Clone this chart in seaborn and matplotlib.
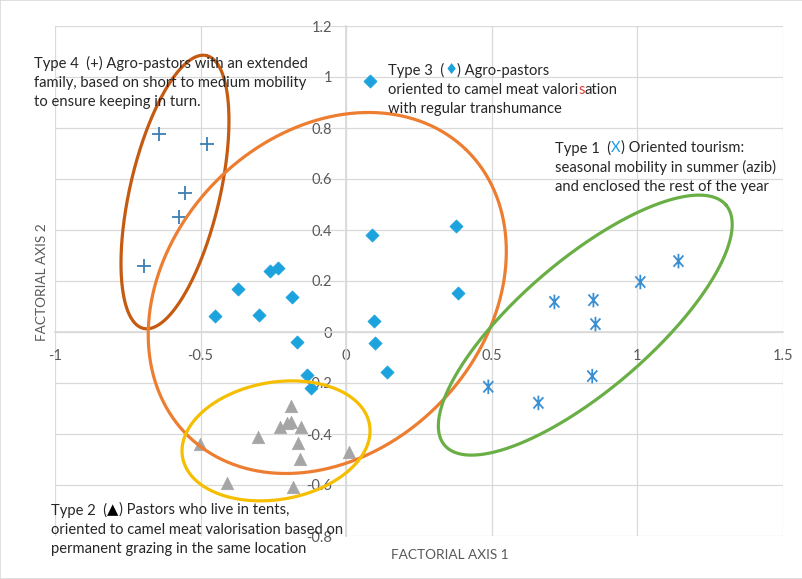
import numpy as np
import pandas as pd
import matplotlib
matplotlib.use("Agg")
import matplotlib.pyplot as plt
from matplotlib.path import Path
from matplotlib.patches import Rectangle
import seaborn as sns

# ---------------- data ----------------
type4_x = [-0.643, -0.478, -0.553, -0.574, -0.694]
type4_y = [0.776, 0.737, 0.545, 0.451, 0.259]

type3_x = [0.082, 0.089, 0.378, 0.385, 0.096, 0.100, 0.141, -0.261, -0.234,
           -0.371, -0.186, -0.450, -0.299, -0.168, -0.134, -0.120]
type3_y = [0.984, 0.380, 0.416, 0.153, 0.043, -0.043, -0.157, 0.239, 0.251,
           0.169, 0.137, 0.063, 0.067, -0.039, -0.169, -0.220]

type2_x = [-0.189, -0.227, -0.203, -0.189, -0.155, -0.302, -0.502, -0.165,
           -0.158, 0.010, -0.409, -0.182]
type2_y = [-0.290, -0.373, -0.357, -0.353, -0.373, -0.410, -0.440, -0.435,
           -0.498, -0.470, -0.592, -0.608]

type1_x = [1.141, 1.010, 0.715, 0.849, 0.856, 0.845, 0.488, 0.660]
type1_y = [0.278, 0.196, 0.118, 0.125, 0.031, -0.173, -0.215, -0.278]

xticks = [-1, -0.5, 0, 0.5, 1, 1.5]
xtick_labels = ["-1", "-0.5", "0", "0.5", "1", "1.5"]
yticks = [-0.8, -0.6, -0.4, -0.2, 0, 0.2, 0.4, 0.6, 0.8, 1.0, 1.2]
ytick_labels = ["-0.8", "-0.6", "-0.4", "-0.2", "0", "0.2", "0.4", "0.6", "0.8", "1", "1.2"]

# grouping ellipses: centre (data), semi-axes (px), angle (deg)
ellipses = [
    dict(c=(-0.588, 0.549), a=140, b=45, ang=77, color="#C55A11"),
    dict(c=(-0.065, 0.153), a=199.5, b=157.6, ang=46, color="#ED7D31"),
    dict(c=(-0.241, -0.427), a=94.9, b=58.6, ang=9.9, color="#F5BE00"),
    dict(c=(0.821, 0.027), a=185, b=65.3, ang=40.5, color="#6AAF46"),
]

# ---------------- figure ----------------
sns.set_theme(style="white")
plt.rcParams["font.family"] = ["Lato", "DejaVu Sans"]

W, H = 803, 579
fig = plt.figure(figsize=(W / 100, H / 100), dpi=100)
L, R, T, B = 55, 783, 26, 536
ax = fig.add_axes([L / W, 1 - B / H, (R - L) / W, (B - T) / H])
ax.set_xlim(-1, 1.5)
ax.set_ylim(-0.8, 1.2)
KX = (R - L) / 2.5
KY = (B - T) / 2.0

grid_c = "#D9D9D9"
ax.set_xticks(xticks, labels=xtick_labels)
ax.set_yticks(yticks, labels=ytick_labels)
ax.grid(True, color=grid_c, linewidth=0.9)
ax.set_axisbelow(True)
for s in ["top", "right"]:
    ax.spines[s].set_visible(False)
ax.spines["left"].set_position(("data", 0))
ax.spines["bottom"].set_position(("data", 0))
ax.spines["left"].set_color(grid_c)
ax.spines["bottom"].set_color(grid_c)
ax.tick_params(axis="both", length=0, labelsize=10.5, labelcolor="#595959")
ax.tick_params(axis="x", pad=12)
ax.tick_params(axis="y", pad=10)

df = pd.concat([
    pd.DataFrame({"x": type4_x, "y": type4_y, "type": "Type 4"}),
    pd.DataFrame({"x": type3_x, "y": type3_y, "type": "Type 3"}),
    pd.DataFrame({"x": type2_x, "y": type2_y, "type": "Type 2"}),
    pd.DataFrame({"x": type1_x, "y": type1_y, "type": "Type 1"}),
])

star = Path([(-0.75, -0.85), (0.75, 0.85), (-0.75, 0.85), (0.75, -0.85), (0, -1.1), (0, 1.1)],
            [Path.MOVETO, Path.LINETO, Path.MOVETO, Path.LINETO, Path.MOVETO, Path.LINETO])

sns.scatterplot(data=df[df.type == "Type 4"], x="x", y="y", marker="+", s=90,
                color="#3B7FB3", linewidth=1.3, ax=ax, zorder=3)
sns.scatterplot(data=df[df.type == "Type 3"], x="x", y="y", marker="D", s=45,
                color="#1CA3DE", edgecolor="#1CA3DE", linewidth=0.5, ax=ax, zorder=3)
sns.scatterplot(data=df[df.type == "Type 2"], x="x", y="y", marker="^", s=80,
                color="#A5A5A5", edgecolor="#A5A5A5", linewidth=0.5, ax=ax, zorder=3)
sns.scatterplot(data=df[df.type == "Type 1"], x="x", y="y", marker=star, s=110,
                facecolor="none", edgecolor="#3A8ED2", linewidth=1.3, ax=ax, zorder=3)
ax.set_xlabel("")
ax.set_ylabel("")

t = np.linspace(0, 2 * np.pi, 500)
for e in ellipses:
    ph = np.deg2rad(e["ang"])
    dx = e["a"] * np.cos(t) * np.cos(ph) - e["b"] * np.sin(t) * np.sin(ph)
    dy = e["a"] * np.cos(t) * np.sin(ph) + e["b"] * np.sin(t) * np.cos(ph)
    ax.plot(e["c"][0] + dx / KX, e["c"][1] + dy / KY, color=e["color"],
            linewidth=2.3, zorder=6, clip_on=False)

# axis titles
fig.text(450 / W, 1 - 555 / H, "FACTORIAL AXIS 1", ha="center", va="center",
         fontsize=9.8, color="#595959")
fig.text(42 / W, 1 - 282 / H, "FACTORIAL AXIS 2", ha="center", va="center",
         rotation=90, fontsize=9.8, color="#595959")

# annotation text (multi-coloured pieces)
fig.canvas.draw()
renderer = fig.canvas.get_renderer()
FS = 10.6
TXT = "#262626"


def line(px, py, pieces):
    x = px / W
    for s, c in pieces:
        tt = fig.text(x, 1 - py / H, s, ha="left", va="center", fontsize=FS,
                      color=c, zorder=5)
        bb = tt.get_window_extent(renderer)
        x += bb.width / W


def block(px, py0, lines, step=19.5):
    for i, pcs in enumerate(lines):
        line(px, py0 + i * step, pcs)


block(34, 63, [
    [("Type 4  (+) Agro-pastors with an extended", TXT)],
    [("family, based on short to medium mobility", TXT)],
    [("to ensure keeping in turn.", TXT)],
])
block(388, 70, [
    [("Type 3  (", TXT), ("\u2666", "#1CA3DE"), (") Agro-pastors", TXT)],
    [("oriented to camel meat valori", TXT), ("s", "#E03C31"), ("ation", TXT)],
    [("with regular transhumance", TXT)],
])
block(555, 148, [
    [("Type 1  (", TXT), ("X", "#1C9BE0"), (") Oriented tourism:", TXT)],
    [("seasonal mobility in summer (azib)", TXT)],
    [("and enclosed the rest of the year", TXT)],
])
block(51, 510, [
    [("Type 2  (", TXT), ("\u25B2", "#000000"), (") Pastors who live in tents,", TXT)],
    [("oriented to camel meat valorisation based on", TXT)],
    [("permanent grazing in the same location", TXT)],
])

fig.patches.append(Rectangle((0, 0), 1, 1, transform=fig.transFigure, fill=False,
                             edgecolor="#D9D9D9", linewidth=1.2))

fig.savefig("out.png", dpi=100)
